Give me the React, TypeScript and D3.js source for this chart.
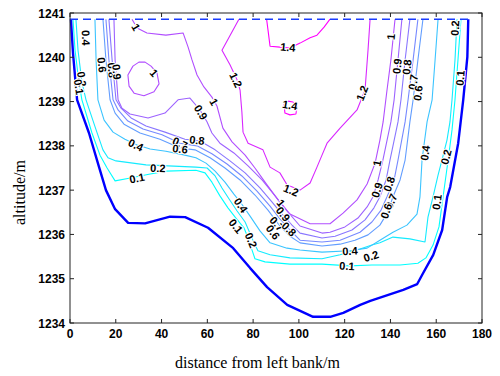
import React from "react";
import * as d3 from "d3";

type Pt = [number, number];

// Axis ticks
const xTicks = [0, 20, 40, 60, 80, 100, 120, 140, 160, 180];
const yTicks = [1234, 1235, 1236, 1237, 1238, 1239, 1240, 1241];

// Water surface elevation and its extent across the section
const waterLevel = 1240.86;
const waterSpan: Pt = [0, 174];

// River bed profile: [distance from left bank (m), altitude (m)]
const bed: Pt[] = [
  [0.4, 1240.86], [1.3, 1240.1], [3.1, 1239.04], [8.3, 1238.29], [12.7, 1237.52],
  [15.7, 1237.0], [19.7, 1236.57], [25.4, 1236.26], [32.8, 1236.25], [43.7, 1236.4],
  [50.3, 1236.39], [60.3, 1236.15], [71.3, 1235.69], [78.7, 1235.24], [86.1, 1234.81],
  [94.9, 1234.41], [106.2, 1234.14], [113.7, 1234.14], [119.4, 1234.23], [126.8, 1234.41],
  [131.2, 1234.5], [145.6, 1234.75], [151.7, 1234.88], [154.3, 1235.13], [158.7, 1235.54],
  [162.6, 1236.1], [164.8, 1236.85], [166.1, 1237.07], [169.6, 1238.06], [171.8, 1239.04],
  [173.6, 1240.01], [174.0, 1240.86],
];

// Velocity isolines (m/s), each as [distance, altitude] vertices
const v01: Pt[] = [
  [1.3, 1240.86], [2.2, 1240.16], [3.9, 1239.44], [5.2, 1239.04], [9.6, 1238.29],
  [13.1, 1237.79], [16.2, 1237.5], [19.7, 1237.21], [25.8, 1237.27], [34.5, 1237.36],
  [41.9, 1237.43], [55.0, 1237.45], [59.0, 1237.39], [62.0, 1237.18], [65.5, 1236.87],
  [69.0, 1236.6], [72.5, 1236.37], [76.0, 1236.15], [78.2, 1235.87], [79.5, 1235.65],
  [80.8, 1235.45], [85.2, 1235.38], [96.1, 1235.33], [110.1, 1235.33], [122.3, 1235.29],
  [131.9, 1235.31], [144.2, 1235.31], [152.0, 1235.35], [155.5, 1235.47], [158.6, 1235.76],
  [161.2, 1236.17], [163.0, 1236.85], [165.2, 1237.68], [166.9, 1238.36], [168.2, 1239.04],
  [169.5, 1239.94], [170.8, 1240.86],
];
const v02: Pt[] = [
  [2.6, 1240.86], [3.5, 1240.16], [5.2, 1239.44], [7.0, 1239.04], [11.4, 1238.36],
  [14.4, 1237.91], [16.6, 1237.73], [20.1, 1237.66], [33.2, 1237.57], [55.0, 1237.52],
  [59.9, 1237.5], [63.4, 1237.32], [66.4, 1237.05], [69.5, 1236.8], [73.0, 1236.53],
  [76.5, 1236.28], [78.6, 1236.03], [80.4, 1235.81], [82.1, 1235.63], [87.4, 1235.54],
  [96.1, 1235.47], [110.1, 1235.45], [118.0, 1235.54], [126.7, 1235.67], [131.9, 1235.76],
  [135.4, 1235.81], [141.1, 1235.94], [148.5, 1235.9], [155.1, 1235.83], [156.4, 1236.39],
  [158.6, 1236.85], [160.8, 1237.34], [162.5, 1237.68], [164.7, 1238.13], [166.0, 1238.54],
  [166.9, 1239.04], [168.2, 1239.94], [169.1, 1240.86],
];
const v04: Pt[] = [
  [10.9, 1240.86], [11.4, 1239.94], [12.2, 1239.04], [14.9, 1238.58], [18.8, 1238.31],
  [24.0, 1238.15], [29.3, 1238.02], [35.0, 1237.93], [41.9, 1237.88], [50.2, 1237.79],
  [55.0, 1237.73], [59.4, 1237.61], [63.4, 1237.43], [67.7, 1237.18], [71.6, 1236.91],
  [74.7, 1236.71], [78.6, 1236.42], [83.0, 1236.08], [87.4, 1235.81], [94.8, 1235.69],
  [100.5, 1235.65], [110.1, 1235.6], [122.3, 1235.63], [129.8, 1235.69], [135.4, 1235.87],
  [141.1, 1236.05], [147.2, 1236.21], [151.6, 1236.46], [152.9, 1236.85], [153.8, 1237.68],
  [156.0, 1238.54], [158.2, 1239.04], [159.5, 1239.94], [160.8, 1240.86],
];
const v06: Pt[] = [
  [14.4, 1240.86], [15.7, 1239.94], [17.5, 1239.04], [19.7, 1238.74], [23.6, 1238.49],
  [30.6, 1238.29], [39.3, 1238.15], [48.1, 1237.95], [54.6, 1237.91], [61.2, 1237.73],
  [67.7, 1237.5], [74.3, 1237.23], [80.8, 1236.89], [86.5, 1236.55], [91.7, 1236.19],
  [96.1, 1235.96], [100.5, 1235.81], [110.1, 1235.74], [118.0, 1235.78], [124.5, 1235.87],
  [130.2, 1235.99], [135.4, 1236.21], [138.9, 1236.51], [141.1, 1236.85], [144.2, 1237.23],
  [146.4, 1237.68], [148.5, 1238.54], [149.9, 1239.04], [152.0, 1239.94], [154.2, 1240.86],
];
const v07: Pt[] = [
  [15.7, 1240.86], [17.0, 1239.94], [18.8, 1239.04], [21.0, 1238.81], [25.3, 1238.56],
  [31.9, 1238.38], [40.2, 1238.25], [48.1, 1238.06], [55.5, 1238.0], [62.0, 1237.82],
  [68.6, 1237.59], [75.1, 1237.32], [81.7, 1236.98], [87.4, 1236.64], [91.7, 1236.35],
  [96.1, 1236.1], [100.5, 1235.87], [110.1, 1235.83], [118.0, 1235.87], [126.7, 1236.05],
  [131.9, 1236.28], [135.9, 1236.55], [138.5, 1236.85], [141.6, 1237.23], [143.3, 1237.68],
  [146.4, 1238.54], [147.7, 1239.04], [149.9, 1239.94], [152.0, 1240.86],
];
const v08: Pt[] = [
  [17.0, 1240.86], [18.4, 1239.94], [20.1, 1239.04], [22.3, 1238.85], [26.7, 1238.63],
  [33.2, 1238.45], [41.5, 1238.31], [50.2, 1238.15], [56.8, 1238.11], [63.4, 1237.91],
  [69.9, 1237.66], [76.5, 1237.39], [83.0, 1237.05], [88.3, 1236.73], [92.6, 1236.46],
  [97.0, 1236.21], [100.5, 1236.03], [110.1, 1235.92], [115.8, 1235.96], [123.2, 1236.1],
  [128.9, 1236.33], [132.8, 1236.6], [135.4, 1236.85], [138.1, 1237.23], [139.8, 1237.68],
  [143.3, 1238.54], [144.6, 1239.04], [146.4, 1239.94], [148.5, 1240.86],
];
const v09: Pt[] = [
  [19.2, 1240.86], [19.7, 1239.94], [21.0, 1239.04], [22.7, 1238.85], [26.2, 1238.72],
  [34.1, 1238.63], [41.5, 1238.74], [47.2, 1239.04], [52.4, 1239.08], [56.8, 1238.81],
  [59.9, 1238.54], [62.0, 1238.29], [65.5, 1238.06], [71.6, 1237.84], [77.8, 1237.55],
  [83.9, 1237.23], [89.6, 1236.87], [94.8, 1236.53], [100.5, 1236.19], [110.1, 1236.03],
  [113.6, 1236.05], [120.1, 1236.17], [125.8, 1236.37], [129.8, 1236.62], [132.4, 1236.85],
  [134.6, 1237.23], [136.7, 1237.68], [140.2, 1238.54], [141.6, 1239.04], [143.3, 1239.94],
  [145.0, 1240.86],
];
const v10: Pt[] = [
  [27.1, 1240.86], [29.3, 1240.66], [33.6, 1240.55], [41.9, 1240.5], [49.4, 1240.55],
  [51.6, 1240.23], [53.3, 1239.94], [55.5, 1239.6], [58.5, 1239.33], [62.0, 1239.1],
  [64.2, 1238.9], [66.8, 1238.4], [70.8, 1238.09], [76.5, 1237.79], [80.8, 1237.5],
  [85.2, 1237.18], [90.9, 1236.78], [96.1, 1236.46], [104.9, 1236.24], [113.6, 1236.24],
  [119.3, 1236.48], [125.4, 1236.78], [129.8, 1237.14], [133.3, 1237.61], [135.4, 1238.13],
  [136.8, 1238.54], [138.5, 1239.26], [140.2, 1239.94], [142.0, 1240.86],
];
const v10Loop: Pt[] = [
  [30.1, 1239.89], [27.5, 1239.8], [25.3, 1239.6], [25.8, 1239.35], [28.0, 1239.19],
  [32.3, 1239.13], [36.7, 1239.22], [38.9, 1239.4], [38.0, 1239.65], [35.4, 1239.8],
  [32.8, 1239.89],
];
const v12: Pt[] = [
  [73.8, 1240.86], [66.4, 1240.16], [69.9, 1239.83], [73.0, 1239.49], [74.3, 1239.26],
  [75.1, 1238.76], [75.6, 1238.31], [77.8, 1238.06], [84.3, 1237.91], [87.4, 1237.52],
  [91.7, 1237.39], [94.8, 1237.12], [100.5, 1237.0], [104.9, 1237.16], [107.9, 1237.52],
  [110.1, 1237.79], [112.3, 1238.06], [118.0, 1238.4], [125.4, 1238.81], [128.9, 1239.26],
  [130.2, 1240.16], [131.1, 1240.86],
];
const v14Top: Pt[] = [
  [85.9, 1240.86], [86.5, 1240.62], [87.4, 1240.25], [91.7, 1240.23], [96.1, 1240.21],
  [100.5, 1240.32], [104.9, 1240.44], [107.9, 1240.5], [111.0, 1240.68], [113.6, 1240.86],
];
const v14Loop: Pt[] = [
  [93.5, 1238.95], [93.9, 1238.74], [96.1, 1238.7], [98.7, 1238.72], [99.2, 1238.88],
  [97.4, 1238.99], [95.2, 1239.01],
];

const isolines: { level: number; pts: Pt[]; closed?: boolean }[] = [
  { level: 0.1, pts: v01 },
  { level: 0.2, pts: v02 },
  { level: 0.4, pts: v04 },
  { level: 0.6, pts: v06 },
  { level: 0.7, pts: v07 },
  { level: 0.8, pts: v08 },
  { level: 0.9, pts: v09 },
  { level: 1, pts: v10 },
  { level: 1, pts: v10Loop, closed: true },
  { level: 1.2, pts: v12 },
  { level: 1.4, pts: v14Top },
  { level: 1.4, pts: v14Loop, closed: true },
];

// Inline isoline labels: [level, distance, altitude]
const isolineLabels: [number, number, number][] = [
  [0.4, 7.0, 1240.44], [0.2, 5.2, 1239.51], [0.1, 3.9, 1239.33],
  [0.6, 14.0, 1239.83], [0.8, 18.4, 1239.71], [0.9, 20.5, 1239.67],
  [1, 28.8, 1240.68], [1, 36.7, 1239.65], [1.2, 72.5, 1239.49],
  [1, 62.9, 1238.99], [0.9, 57.2, 1238.76], [0.8, 55.5, 1238.13],
  [0.7, 48.1, 1238.06], [0.6, 48.1, 1237.93], [0.4, 28.8, 1238.02],
  [0.2, 38.4, 1237.5], [0.1, 29.3, 1237.27],
  [0.4, 74.7, 1236.66], [0.1, 72.5, 1236.19], [0.2, 79.1, 1235.87],
  [1.2, 96.6, 1237.0], [1, 92.2, 1236.71], [0.9, 93.1, 1236.46],
  [0.7, 90.4, 1236.24], [0.8, 95.7, 1236.12], [0.6, 88.7, 1236.05],
  [0.4, 122.3, 1235.63], [0.2, 131.5, 1235.51], [0.1, 121.0, 1235.29],
  [1, 134.1, 1237.61], [0.9, 134.1, 1237.0], [0.8, 139.4, 1237.14],
  [0.7, 140.2, 1236.75], [0.6, 138.1, 1236.53], [0.4, 155.1, 1237.84],
  [0.2, 164.3, 1237.75], [0.1, 160.3, 1236.73], [1.2, 127.6, 1239.19],
  [1, 140.2, 1240.46], [0.9, 142.9, 1239.8], [0.8, 147.2, 1239.78],
  [0.7, 149.9, 1239.44], [0.6, 152.0, 1239.19], [0.2, 168.2, 1240.66],
  [0.1, 170.4, 1239.53], [1.4, 95.2, 1240.23], [1.4, 96.1, 1238.92],
];

const W = 500;
const H = 376;
const sansBold = "'Liberation Sans', Arial, Helvetica, sans-serif";
const serif = "'Liberation Serif', 'Times New Roman', Times, serif";

export default function App() {
  const x = d3.scaleLinear().domain([0, 180]).range([70, 482]);
  const y = d3.scaleLinear().domain([1234, 1241]).range([323, 13]);
  const line = d3.line<Pt>().x((d) => x(d[0])).y((d) => y(d[1]));
  const colour = (v: number) => d3.interpolateRgb("#00ffff", "#ff00ff")((v - 0.1) / 1.3);

  // Orientation of a label follows the nearest segment of its isoline
  const labelAngle = (level: number, px: number, py: number) => {
    let best = Infinity;
    let ang = 0;
    for (const iso of isolines) {
      if (iso.level !== level) continue;
      const p = iso.pts.map((d) => [x(d[0]), y(d[1])]);
      if (iso.closed) p.push(p[0]);
      for (let i = 0; i < p.length - 1; i++) {
        const [x1, y1] = p[i];
        const [x2, y2] = p[i + 1];
        const dx = x2 - x1;
        const dy = y2 - y1;
        const len2 = dx * dx + dy * dy || 1;
        const t = Math.max(0, Math.min(1, ((px - x1) * dx + (py - y1) * dy) / len2));
        const cx = x1 + t * dx;
        const cy = y1 + t * dy;
        const dist = Math.hypot(px - cx, py - cy);
        if (dist < best) {
          best = dist;
          ang = (Math.atan2(dy, dx) * 180) / Math.PI;
        }
      }
    }
    if (ang > 90) ang -= 180;
    if (ang <= -90) ang += 180;
    return ang;
  };

  const [x0, x1] = x.range();
  const [y0, y1] = y.range();

  return (
    <svg
      width={W}
      height={H}
      viewBox={`0 0 ${W} ${H}`}
      style={{ position: "absolute", left: 0, top: 0, background: "#fff" }}
    >
      <rect x={0} y={0} width={W} height={H} fill="#fff" />

      {/* isolines */}
      <g fill="none" strokeWidth={1.1} strokeLinejoin="round">
        {isolines.map((iso, i) => (
          <path
            key={i}
            d={(line(iso.pts) ?? "") + (iso.closed ? "Z" : "")}
            stroke={colour(iso.level)}
          />
        ))}
      </g>

      {/* river bed and water surface */}
      <path d={line(bed) ?? ""} fill="none" stroke="#0000ff" strokeWidth={2.4} strokeLinejoin="round" />
      <line
        x1={x(waterSpan[0])}
        x2={x(waterSpan[1])}
        y1={y(waterLevel)}
        y2={y(waterLevel)}
        stroke="#1a3cff"
        strokeWidth={1.6}
        strokeDasharray="8,5"
      />

      {/* isoline labels */}
      <g fontFamily={sansBold} fontWeight="bold" fontSize={11} fill="#000">
        {isolineLabels.map(([lv, d, a], i) => {
          const px = x(d);
          const py = y(a);
          const ang = labelAngle(lv, px, py);
          return (
            <text
              key={i}
              transform={`translate(${px},${py}) rotate(${ang})`}
              textAnchor="middle"
              dominantBaseline="central"
              stroke="#fff"
              strokeWidth={2}
              paintOrder="stroke"
            >
              {String(lv)}
            </text>
          );
        })}
      </g>

      {/* frame */}
      <rect
        x={x0}
        y={y1}
        width={x1 - x0}
        height={y0 - y1}
        fill="none"
        stroke="#222"
        strokeWidth={1}
      />

      {/* ticks */}
      <g stroke="#222" strokeWidth={1}>
        {xTicks.map((t) => (
          <g key={`xt${t}`}>
            <line x1={x(t)} x2={x(t)} y1={y0} y2={y0 - 4} />
            <line x1={x(t)} x2={x(t)} y1={y1} y2={y1 + 4} />
          </g>
        ))}
        {yTicks.map((t) => (
          <g key={`yt${t}`}>
            <line x1={x0} x2={x0 + 4} y1={y(t)} y2={y(t)} />
            <line x1={x1} x2={x1 - 4} y1={y(t)} y2={y(t)} />
          </g>
        ))}
      </g>

      {/* tick labels */}
      <g fontFamily={sansBold} fontWeight="bold" fontSize={12} fill="#000">
        {xTicks.map((t) => (
          <text key={`xl${t}`} x={x(t)} y={338} textAnchor="middle">
            {t}
          </text>
        ))}
        {yTicks.map((t) => (
          <text key={`yl${t}`} x={65} y={y(t) + 4.5} textAnchor="end">
            {t}
          </text>
        ))}
      </g>

      {/* axis titles */}
      <text x={175} y={368} fontFamily={serif} fontSize={16} fill="#000">
        distance from left bank/m
      </text>
      <text
        transform={`translate(25,225) rotate(-90)`}
        fontFamily={serif}
        fontSize={16}
        fill="#000"
      >
        altitude/m
      </text>
    </svg>
  );
}
